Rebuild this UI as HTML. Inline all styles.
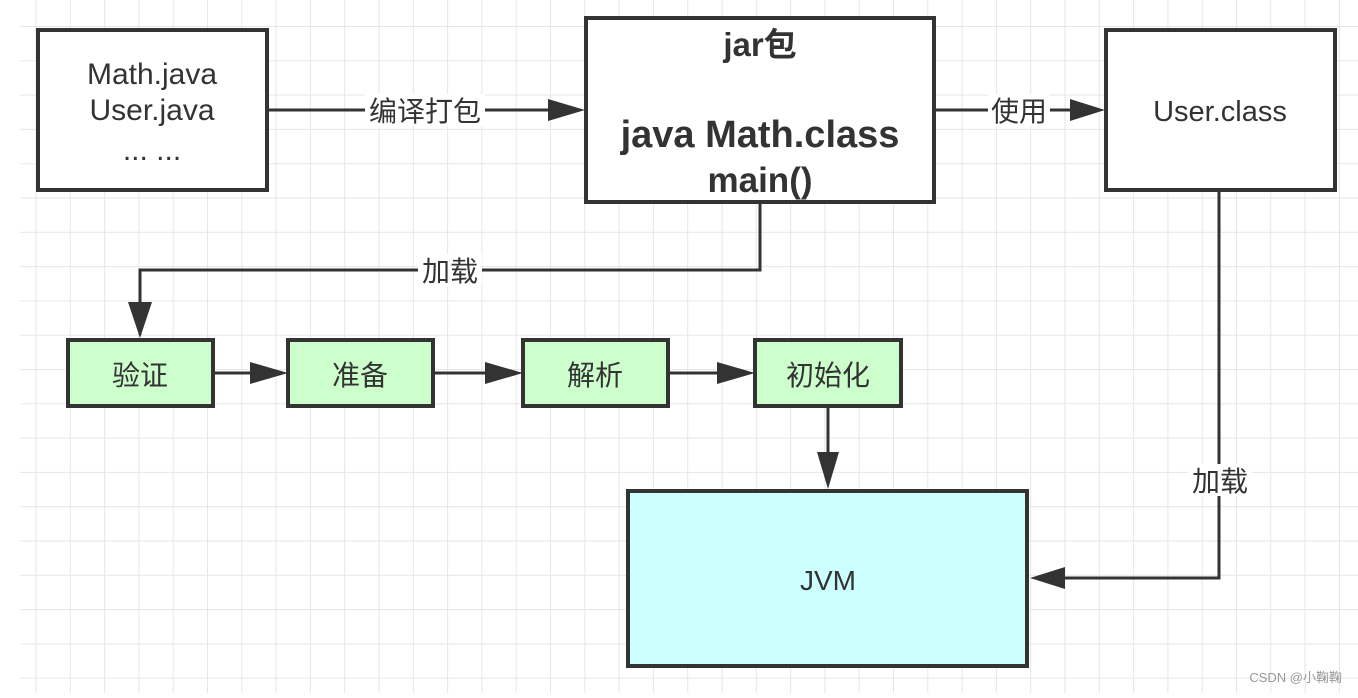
<!DOCTYPE html>
<html><head><meta charset="utf-8"><style>
html,body{margin:0;padding:0;background:#fff;}
svg text{font-family:"Liberation Sans","Noto Sans CJK SC",sans-serif;fill:#333;}
</style></head><body>
<svg width="1358" height="693" viewBox="0 0 1358 693" xmlns="http://www.w3.org/2000/svg">
<defs>
<pattern id="g" x="35.5" y="26" width="34.3" height="34.3" patternUnits="userSpaceOnUse">
<path d="M0 0H34.3M0 0V34.3" stroke="#e6e6e6" stroke-width="2" fill="none"/>
</pattern>
</defs>
<rect x="20" y="0" width="1338" height="693" fill="url(#g)"/>
<g stroke="#333" stroke-width="3" fill="none">
<path d="M267 110H560"/>
<path d="M548 99L585 110L548 121Z" fill="#333" stroke="none"/>
<path d="M934 110H1092"/>
<path d="M1070 99L1105 110L1070 121Z" fill="#333" stroke="none"/>
<path d="M760 202V270H140V335"/>
<path d="M128 302L140 338L152 302Z" fill="#333" stroke="none"/>
<path d="M213 373H280"/><path d="M250 362L288 373L250 384Z" fill="#333" stroke="none"/>
<path d="M433 373H515"/><path d="M485 362L523 373L485 384Z" fill="#333" stroke="none"/>
<path d="M668 373H747"/><path d="M717 362L755 373L717 384Z" fill="#333" stroke="none"/>
<path d="M828 406V483"/><path d="M817 452L828 489L839 452Z" fill="#333" stroke="none"/>
<path d="M1219 190V578H1040"/><path d="M1065 567L1030 578L1065 589Z" fill="#333" stroke="none"/>
</g>
<g stroke="#333" stroke-width="4">
<rect x="38" y="30" width="229" height="160" fill="#fff"/>
<rect x="586" y="18" width="348" height="184" fill="#fff"/>
<rect x="1106" y="30" width="229" height="160" fill="#fff"/>
<rect x="68" y="340" width="145" height="66" fill="#ccffcc"/>
<rect x="288" y="340" width="145" height="66" fill="#ccffcc"/>
<rect x="523" y="340" width="145" height="66" fill="#ccffcc"/>
<rect x="755" y="340" width="146" height="66" fill="#ccffcc"/>
<rect x="628" y="491" width="399" height="175" fill="#ccffff"/>
</g>
<g font-size="30" text-anchor="middle">
<text x="152" y="84">Math.java</text>
<text x="152" y="120">User.java</text>
<text x="152" y="160">... ...</text>
<text x="760" y="56" font-weight="bold" font-size="33">jar包</text>
<text x="760" y="147" font-weight="bold" font-size="38">java Math.class</text>
<text x="760" y="192" font-weight="bold" font-size="35">main()</text>
<text x="1220" y="121" font-size="29">User.class</text>
<text x="140" y="385" font-size="28">验证</text>
<text x="360" y="385" font-size="28">准备</text>
<text x="595" y="385" font-size="28">解析</text>
<text x="828" y="385" font-size="28">初始化</text>
<text x="828" y="590" font-size="28">JVM</text>
</g>
<g font-size="28" text-anchor="middle">
<rect x="365" y="94" width="120" height="32" fill="#fff"/>
<text x="425" y="121">编译打包</text>
<rect x="988" y="94" width="62" height="32" fill="#fff"/>
<text x="1019" y="121">使用</text>
<rect x="418" y="254" width="64" height="32" fill="#fff"/>
<text x="450" y="281">加载</text>
<rect x="1188" y="464" width="64" height="32" fill="#fff"/>
<text x="1220" y="491">加载</text>
</g>
<text x="1342" y="682" font-size="13" text-anchor="end" style="fill:#999">CSDN @小鞠鞠</text>
</svg>
</body></html>
